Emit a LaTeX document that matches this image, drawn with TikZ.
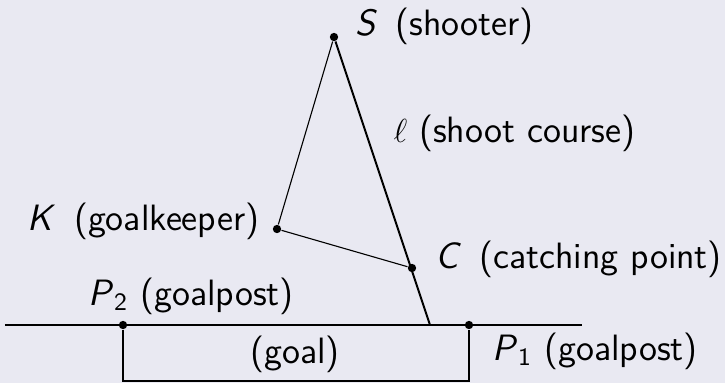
\documentclass[tikz,border=0pt]{standalone}
\usepackage{tikz}
\usetikzlibrary{positioning}
\definecolor{bgcol}{HTML}{E9E9F2}
\renewcommand{\familydefault}{\sfdefault}

\begin{document}
\begin{tikzpicture}[
  x=0.36pt, y=-0.36pt,
  every node/.style={font=\fontsize{13.2}{16}\selectfont\sffamily},
  dot/.style={circle, fill=black, inner sep=0pt, minimum size=3pt},
  lbl/.style={inner sep=0pt},
  thinline/.style={line width=0.4pt},
  goalline/.style={line width=0.55pt},
  course/.style={line width=0.7pt},
  ground/.style={line width=0.7pt}
]
\useasboundingbox[fill=bgcol] (0,0) rectangle (725,383);

\node[dot] (S) at (334,37) {};
\node[dot] (K) at (277,229) {};
\node[dot] (C) at (412,268) {};
\node[dot] (P2) at (123,325) {};
\node[dot] (P1) at (469,325) {};
\coordinate (G) at (430,325);
\coordinate (left) at (5,325);
\coordinate (right) at (582,325);
\coordinate (P2b) at (123,381);
\coordinate (P1b) at (469,381);

\node[lbl, anchor=base west] (Slbl) at (355,35) {\textit{S}~\,(shooter)};
\node[lbl, anchor=base west] (llbl) at (393,142) {$\ell$ (shoot course)};
\node[lbl, anchor=base east] (Klbl) at (260,230) {\textit{K}~\,(goalkeeper)};
\node[lbl, anchor=base west] (Clbl) at (435,268) {\textit{C}~\,(catching point)};
\node[lbl, anchor=base west] (P2lbl) at (88,305) {\textit{P}$_{\mathsf{2}}$ (goalpost)};
\node[lbl, anchor=base] (goal) at (295,363) {(goal)};
\node[lbl, anchor=base west] (P1lbl) at (492,360) {\textit{P}$_{\mathsf{1}}$ (goalpost)};

\draw[ground] (left) -- (right);
\draw[goalline] (P2) -- (P2b) -- (P1b) -- (P1);
\draw[thinline] (S) -- (K) -- (C);
\draw[course] (S) -- (G);

\end{tikzpicture}
\end{document}
